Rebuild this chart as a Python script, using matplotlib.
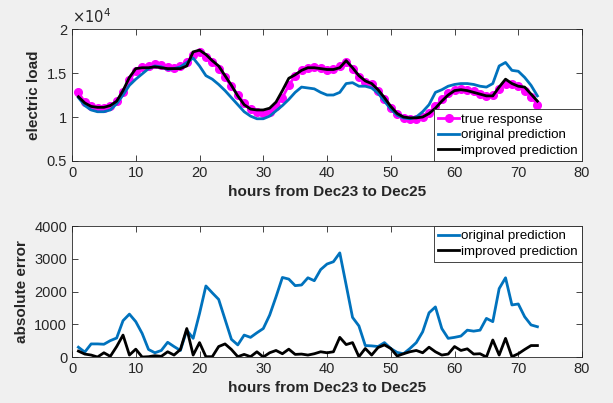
import numpy as np
import matplotlib
matplotlib.use("Agg")
import matplotlib.pyplot as plt

# ----------------------------------------------------------------------
#   Data
# ----------------------------------------------------------------------

hours = np.arange(1, 74)

# electric load, units of 1e4
true_response = [1.28, 1.17, 1.12, 1.10, 1.10, 1.12, 1.18, 1.28, 1.42, 1.52,
                 1.57, 1.58, 1.60, 1.59, 1.57, 1.56, 1.58, 1.63, 1.70, 1.74,
                 1.68, 1.62, 1.55, 1.45, 1.35, 1.25, 1.16, 1.09, 1.06, 1.05,
                 1.06, 1.12, 1.22, 1.36, 1.47, 1.53, 1.56, 1.57, 1.56, 1.53,
                 1.54, 1.58, 1.62, 1.55, 1.45, 1.40, 1.37, 1.30, 1.20, 1.10,
                 1.03, 0.99, 0.98, 0.98, 1.00, 1.05, 1.12, 1.20, 1.27, 1.31,
                 1.32, 1.31, 1.29, 1.26, 1.24, 1.25, 1.32, 1.38, 1.37, 1.35,
                 1.30, 1.23, 1.14]

original_pred = [1.22, 1.13, 1.08, 1.06, 1.06, 1.08, 1.15, 1.25, 1.36, 1.43,
                 1.49, 1.55, 1.58, 1.57, 1.54, 1.55, 1.57, 1.62, 1.67, 1.58,
                 1.47, 1.43, 1.37, 1.30, 1.22, 1.14, 1.06, 1.01, 0.98, 0.98,
                 1.01, 1.07, 1.13, 1.20, 1.28, 1.34, 1.33, 1.32, 1.28, 1.25,
                 1.25, 1.28, 1.38, 1.39, 1.35, 1.35, 1.33, 1.27, 1.18, 1.09,
                 1.02, 0.99, 0.98, 1.00, 1.06, 1.14, 1.28, 1.31, 1.35, 1.37,
                 1.38, 1.38, 1.37, 1.35, 1.34, 1.38, 1.58, 1.62, 1.53, 1.52,
                 1.45, 1.36, 1.24]

improved_pred = [1.23, 1.16, 1.12, 1.11, 1.11, 1.13, 1.18, 1.30, 1.45, 1.55,
                 1.56, 1.56, 1.57, 1.56, 1.55, 1.55, 1.55, 1.58, 1.74, 1.76,
                 1.71, 1.64, 1.58, 1.47, 1.36, 1.24, 1.14, 1.09, 1.08, 1.08,
                 1.10, 1.17, 1.30, 1.44, 1.48, 1.53, 1.56, 1.56, 1.55, 1.54,
                 1.54, 1.56, 1.64, 1.56, 1.47, 1.41, 1.38, 1.31, 1.22, 1.12,
                 1.04, 1.00, 0.99, 0.99, 1.00, 1.04, 1.10, 1.18, 1.25, 1.30,
                 1.31, 1.30, 1.28, 1.26, 1.24, 1.24, 1.34, 1.43, 1.38, 1.35,
                 1.34, 1.26, 1.18]

# absolute error
original_err = [300, 150, 400, 400, 390, 500, 580, 1110, 1310, 1080,
                720, 230, 130, 200, 450, 320, 200, 820, 570, 1330,
                2170, 1960, 1760, 1150, 540, 370, 670, 600, 740, 870,
                1280, 1840, 2430, 2380, 2180, 2200, 2420, 2330, 2670, 2840,
                2910, 3180, 2200, 1210, 950, 350, 340, 320, 440, 260,
                140, 100, 260, 440, 770, 1350, 1530, 870, 570, 600,
                640, 820, 790, 820, 1180, 1080, 2090, 2420, 1590, 1620,
                1230, 980, 925]

improved_err = [180, 90, 60, 0, 130, 20, 320, 670, 60, 240,
                0, 10, 40, 20, 160, 60, 230, 870, 60, 440,
                10, 10, 320, 400, 230, 10, 80, 10, 160, 0,
                130, 200, 100, 240, 80, 90, 60, 100, 160, 130,
                160, 600, 380, 440, 10, 260, 60, 290, 370, 260,
                30, 100, 160, 200, 130, 300, 160, 60, 90, 320,
                200, 250, 90, 100, 0, 520, 60, 570, 10, 100,
                230, 350, 350]

# ----------------------------------------------------------------------
#   Style
# ----------------------------------------------------------------------

plt.rcParams['font.family'] = ['Liberation Sans', 'DejaVu Sans']
plt.rcParams['font.size'] = 10.5

BLUE = '#0072BD'
MAGENTA = '#FF00FF'
DARK = '#262626'


def style_axes(ax):
    ax.set_facecolor('white')
    for s in ax.spines.values():
        s.set_color(DARK)
        s.set_linewidth(0.6)
    ax.tick_params(direction='in', top=True, right=True, colors=DARK,
                   labelsize=10.5, length=4, width=0.6)
    ax.set_xlim(0, 80)
    ax.set_xticks(np.arange(0, 81, 10))
    ax.set_xlabel('hours from Dec23 to Dec25', fontweight='bold',
                  fontsize=11, color=DARK)


def add_legend(ax, loc):
    leg = ax.legend(loc=loc, fancybox=False, framealpha=1,
                    edgecolor=DARK, handlelength=1.6, handletextpad=0.15,
                    borderpad=0.3, labelspacing=0.25, borderaxespad=0.0,
                    fontsize=9.6)
    leg.get_frame().set_linewidth(0.6)
    return leg


fig = plt.figure(figsize=(6.13, 4.03), dpi=100, facecolor='#F0F0F0')

# top: electric load
ax1 = fig.add_axes([0.1175, 0.6005, 0.832, 0.3275])
style_axes(ax1)
ax1.plot(hours, true_response, color=MAGENTA, lw=2, marker='o', ms=5.5,
         label='true response')
ax1.plot(hours, original_pred, color=BLUE, lw=2, label='original prediction')
ax1.plot(hours, improved_pred, color='black', lw=2, label='improved prediction')
ax1.set_ylim(0.5, 2)
ax1.set_yticks([0.5, 1, 1.5, 2])
ax1.set_yticklabels(['0.5', '1', '1.5', '2'])
ax1.set_ylabel('electric load', fontweight='bold', fontsize=11, color=DARK)
ax1.text(0.0, 1.02, r'$\times10^{4}$', transform=ax1.transAxes,
         fontsize=10.5, color=DARK, va='bottom', ha='left')
add_legend(ax1, 'lower right')

# bottom: absolute error
ax2 = fig.add_axes([0.1175, 0.1141, 0.832, 0.325])
style_axes(ax2)
ax2.plot(hours, original_err, color=BLUE, lw=2, label='original prediction')
ax2.plot(hours, improved_err, color='black', lw=2, label='improved prediction')
ax2.set_ylim(0, 4000)
ax2.set_yticks(np.arange(0, 4001, 1000))
ax2.set_ylabel('absolute error', fontweight='bold', fontsize=11, color=DARK)
add_legend(ax2, 'upper right')

fig.savefig('out.png', dpi=100, facecolor=fig.get_facecolor())
